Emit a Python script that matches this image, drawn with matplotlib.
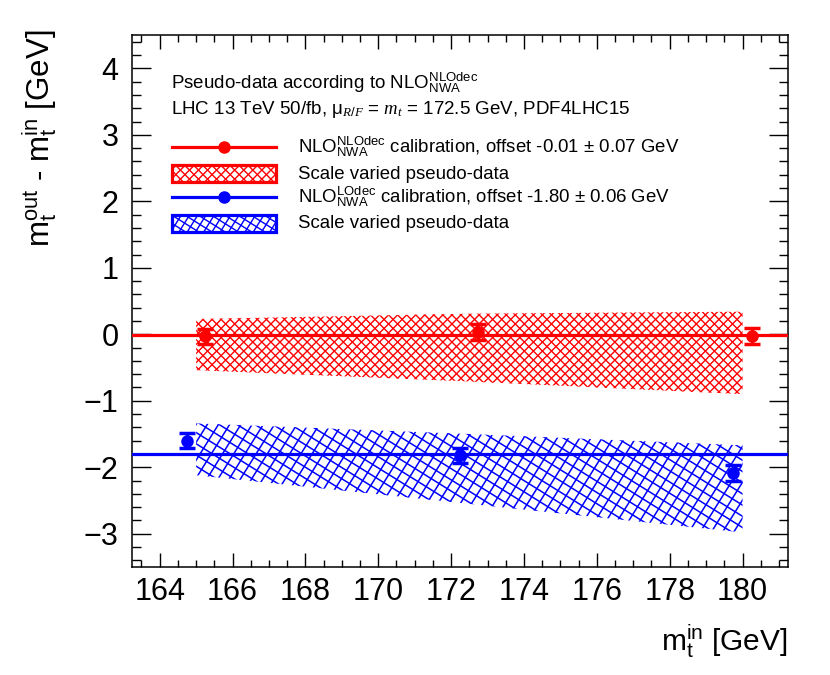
import numpy as np
import matplotlib
matplotlib.use("Agg")
import matplotlib.pyplot as plt
from matplotlib.collections import LineCollection
from matplotlib.lines import Line2D
from matplotlib.patches import Rectangle
from matplotlib.transforms import IdentityTransform

plt.rcParams['font.family'] = ['Liberation Sans', 'DejaVu Sans']
plt.rcParams['mathtext.fontset'] = 'custom'
plt.rcParams['mathtext.rm'] = 'Liberation Sans'
plt.rcParams['mathtext.it'] = 'Liberation Serif:italic'

# pseudo-data calibration points
red_x = [165.25, 172.75, 180.25]
red_y = [-0.03, 0.03, -0.03]
red_err = [0.11, 0.12, 0.12]
blue_x = [164.75, 172.25, 179.75]
blue_y = [-1.60, -1.82, -2.08]
blue_err = [0.11, 0.11, 0.12]

# scale variation bands
band_x = [165.0, 172.5, 180.0]
red_band_lo = [-0.54, -0.71, -0.90]
red_band_hi = [0.23, 0.31, 0.34]
blue_band_lo = [-2.12, -2.55, -2.98]
blue_band_hi = [-1.34, -1.50, -1.67]

# fitted offsets
red_offset = -0.01
blue_offset = -1.80

RED = '#ff0000'
BLUE = '#0000ff'

fig = plt.figure(figsize=(8.3, 6.75), dpi=100)
ax = fig.add_axes([0.1595, 0.16, 0.79, 0.788])
ax.set_xlim(163.25, 181.25)
ax.set_ylim(-3.5, 4.5)


def hatch_lines(path, trans, color, angles, spacing, lw):
    # ROOT style hatching: parallel lines in pixel space, clipped to a shape
    x0, y0, x1, y1 = fig.bbox.extents
    cx, cy = (x0 + x1) / 2, (y0 + y1) / 2
    diag = np.hypot(x1 - x0, y1 - y0)
    segs = []
    for a in angles:
        t = np.radians(a)
        d = np.array([np.cos(t), np.sin(t)])
        n = np.array([-np.sin(t), np.cos(t)])
        for k in np.arange(-diag / 2, diag / 2, spacing):
            p = np.array([cx, cy]) + k * n
            segs.append([p - diag * d, p + diag * d])
    lc = LineCollection(segs, colors=color, linewidths=lw, transform=IdentityTransform())
    lc.set_clip_path(path, trans)
    ax.add_collection(lc, autolim=False)


poly_r = ax.fill_between(band_x, red_band_lo, red_band_hi, facecolor='none', edgecolor='none')
hatch_lines(poly_r.get_paths()[0], ax.transData, RED, [45, 135], 6.4, 1.0)
poly_b = ax.fill_between(band_x, blue_band_lo, blue_band_hi, facecolor='none', edgecolor='none')
hatch_lines(poly_b.get_paths()[0], ax.transData, BLUE, [58, 148], 9.5, 1.1)

ax.axhline(red_offset, color=RED, lw=2.3, zorder=3)
ax.axhline(blue_offset, color=BLUE, lw=2.3, zorder=3)

ax.errorbar(red_x, red_y, yerr=red_err, fmt='o', color=RED, ms=8, elinewidth=2.5,
            capsize=6, capthick=2.5, zorder=4)
ax.errorbar(blue_x, blue_y, yerr=blue_err, fmt='o', color=BLUE, ms=8, elinewidth=2.5,
            capsize=6, capthick=2.5, zorder=4)

# axes style
ax.set_xticks(np.arange(164, 181, 2))
ax.set_xticks(np.arange(163.5, 181.3, 0.5), minor=True)
ax.set_yticks(np.arange(-3, 5, 1))
ax.set_yticks(np.arange(-3.4, 4.5, 0.2), minor=True)
ax.tick_params(which='both', direction='in', top=True, right=True, width=1.0, labelsize=22)
ax.tick_params(axis='x', which='major', length=10, pad=7)
ax.tick_params(axis='x', which='minor', length=5)
ax.tick_params(axis='y', which='major', length=13.5, pad=10)
ax.tick_params(axis='y', which='minor', length=6.8)
for s in ax.spines.values():
    s.set_linewidth(1.1)

ax.set_xlabel(r'm$_{\rm t}^{\rm in}$ [GeV]', fontsize=21.5, loc='right')
ax.xaxis.set_label_coords(1.0, -0.105)
ax.set_ylabel(r'm$_{\rm t}^{\rm out}$ - m$_{\rm t}^{\rm in}$ [GeV]', fontsize=22.5, loc='top')
ax.yaxis.set_label_coords(-0.112, 1.01)

# legend header
ax.text(0.059, 0.900, r'Pseudo-data according to NLO$^{\rm NLOdec}_{\rm NWA}$',
        transform=ax.transAxes, fontsize=13.5, va='baseline')
ax.text(0.059, 0.851, r'LHC 13 TeV 50/fb, μ$_{R/F}$ = $m_t$ = 172.5 GeV, PDF4LHC15',
        transform=ax.transAxes, fontsize=13.5, va='baseline')

# legend entries
labels = [r'NLO$^{\rm NLOdec}_{\rm NWA}$ calibration, offset -0.01 ± 0.07 GeV',
          'Scale varied pseudo-data',
          r'NLO$^{\rm LOdec}_{\rm NWA}$ calibration, offset -1.80 ± 0.06 GeV',
          'Scale varied pseudo-data']
kinds = ['line', 'box', 'line', 'box']
colors = [RED, RED, BLUE, BLUE]
hatch_angles = [None, [45, 135], None, [58, 148]]
handle_y = [0.789, 0.740, 0.695, 0.646]
text_y = [0.779, 0.729, 0.685, 0.637]
hx0, hx1 = 0.061, 0.219
for lab, kind, c, ang, hy, ty in zip(labels, kinds, colors, hatch_angles, handle_y, text_y):
    if kind == 'line':
        ax.add_line(Line2D([hx0, hx1], [hy, hy], color=c, lw=2.3, transform=ax.transAxes))
        ax.add_line(Line2D([(hx0 + hx1) / 2], [hy], color=c, marker='o', ms=8,
                           transform=ax.transAxes))
    else:
        rect = Rectangle((hx0, hy - 0.016), hx1 - hx0, 0.032, facecolor='none',
                         edgecolor=c, lw=2.3, transform=ax.transAxes, zorder=5)
        ax.add_patch(rect)
        hatch_lines(rect.get_path(), rect.get_transform(), c, ang, 6.4 if c == RED else 7.0, 1.0)
    ax.text(0.252, ty, lab, transform=ax.transAxes, fontsize=13.4, va='baseline')

fig.savefig('out.png', dpi=100)
